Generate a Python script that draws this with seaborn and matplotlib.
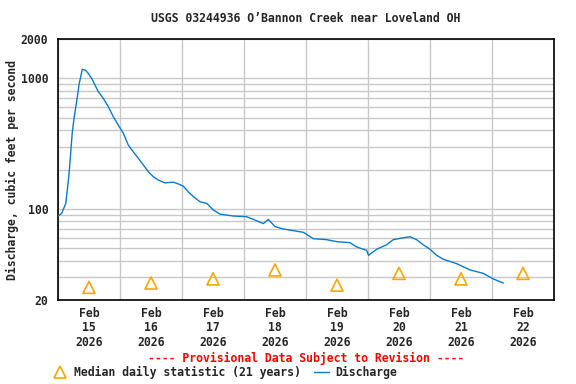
import pandas as pd
import numpy as np
import matplotlib
matplotlib.use("Agg")
import matplotlib.pyplot as plt
import matplotlib.dates as mdates
from matplotlib.lines import Line2D
import seaborn as sns

# Discharge readings: hours after Feb 15 2026 00:00, cfs
hours = [0.0, 1.4, 3.0, 3.6, 4.3, 4.9, 5.5, 6.2, 6.9, 7.5, 8.1, 8.8, 9.4, 10.7,
         11.7, 13.0, 14.3, 15.6, 17.5, 19.5, 21.4, 23.3, 25.3, 27.2, 29.1, 31.1,
         33.0, 35.0, 36.9, 38.8, 41.4, 44.6, 46.6, 48.5, 50.4, 52.4, 55.0, 57.6,
         60.1, 62.7, 67.9, 73.0, 75.6, 79.5, 81.4, 84.0, 87.2, 91.1, 95.0, 98.8,
         104.0, 107.9, 113.0, 115.6, 119.5, 120.2, 123.4, 127.2, 129.8, 133.7,
         136.3, 138.8, 141.4, 144.0, 146.6, 149.2, 154.3, 159.5, 164.6, 168.5, 172.4]
discharge = [88, 92, 110, 139, 187, 266, 379, 493, 605, 723, 889, 1028, 1172, 1150,
             1092, 1000, 889, 790, 703, 605, 508, 439, 379, 308, 274, 244,
             217, 192, 176, 166, 158, 160, 155, 149, 135, 124, 113, 110,
             98, 91, 88, 87, 83, 77, 83, 73, 70, 68, 66, 59,
             58, 56, 55, 51, 48, 44, 49, 53, 58, 60,
             61, 58, 53, 49, 44, 41, 38, 34, 32, 29, 27]

# Median daily statistic, plotted at noon of each day
median_days = ["2026-02-15", "2026-02-16", "2026-02-17", "2026-02-18",
               "2026-02-19", "2026-02-20", "2026-02-21", "2026-02-22"]
median_vals = [25, 27, 29, 34, 26, 32, 29, 32]

start = pd.Timestamp("2026-02-15")
flow = pd.DataFrame({"time": start + pd.to_timedelta(hours, unit="h"),
                     "cfs": discharge})
med = pd.DataFrame({"time": pd.to_datetime(median_days) + pd.Timedelta(hours=12),
                    "cfs": median_vals})

sns.set_style("white")
plt.rcParams["font.family"] = ["DejaVu Sans Mono"]
plt.rcParams["font.weight"] = "bold"
fs = 8.3

fig = plt.figure(figsize=(5.76, 3.84), dpi=100)
ax = fig.add_axes([58 / 576, 1 - 300 / 384, 496 / 576, 261 / 384])

line_color = "#0a7acc"
tri_color = "#ffa500"

sns.lineplot(data=flow, x="time", y="cfs", ax=ax, color=line_color,
             linewidth=1.0, zorder=3)
sns.scatterplot(data=med, x="time", y="cfs", ax=ax, marker="^", s=75,
                facecolor="none", edgecolor=tri_color, linewidth=1.2, zorder=4)

ax.set_yscale("log")
ax.set_ylim(20, 2000)
ax.set_xlim(start, start + pd.Timedelta(days=8))

ax.yaxis.set_major_locator(matplotlib.ticker.FixedLocator([20, 100, 1000, 2000]))
ax.yaxis.set_major_formatter(matplotlib.ticker.FixedFormatter(["20", "100", "1000", "2000"]))
ax.yaxis.set_minor_locator(matplotlib.ticker.LogLocator(base=10, subs=np.arange(2, 10)))
ax.yaxis.set_minor_formatter(matplotlib.ticker.NullFormatter())

ax.xaxis.set_major_locator(mdates.DayLocator())
ax.xaxis.set_major_formatter(matplotlib.ticker.NullFormatter())
ax.xaxis.set_minor_locator(mdates.HourLocator(byhour=[12]))
ax.xaxis.set_minor_formatter(mdates.DateFormatter("%b\n%d\n%Y"))

ax.grid(True, which="major", color="#c8c8c8", linewidth=1.0)
ax.grid(True, which="minor", axis="y", color="#c8c8c8", linewidth=1.0)
ax.tick_params(axis="both", which="both", length=0, labelsize=fs)
ax.tick_params(axis="y", pad=7)
ax.tick_params(axis="x", which="minor", pad=5)
for lab in ax.get_xticklabels(minor=True) + ax.get_yticklabels():
    lab.set_fontweight("bold")
    lab.set_linespacing(1.15)

for sp in ax.spines.values():
    sp.set_color("black")
    sp.set_linewidth(1.2)

ax.set_xlabel("")
ax.set_ylabel("Discharge, cubic feet per second", fontsize=fs, fontweight="bold",
              labelpad=1)

fig.text(306 / 576, 1 - 19 / 384, "USGS 03244936 O\u2019Bannon Creek near Loveland OH",
         ha="center", va="center", fontsize=fs, fontweight="bold")
fig.text(306 / 576, 1 - 358 / 384, "---- Provisional Data Subject to Revision ----",
         ha="center", va="center", fontsize=fs, fontweight="bold", color="red")

handles = [Line2D([], [], linestyle="none", marker="^", markersize=8,
                  markerfacecolor="none", markeredgecolor=tri_color, markeredgewidth=1.2),
           Line2D([], [], color=line_color, linewidth=1.0)]
fig.legend(handles, ["Median daily statistic (21 years)", "Discharge"],
           loc="center left", bbox_to_anchor=(53 / 576, 1 - 372 / 384), ncol=2,
           frameon=False, fontsize=fs, handlelength=1.3, handletextpad=0.55,
           columnspacing=1.1, borderpad=0, borderaxespad=0)

fig.savefig("out.png", dpi=100)
